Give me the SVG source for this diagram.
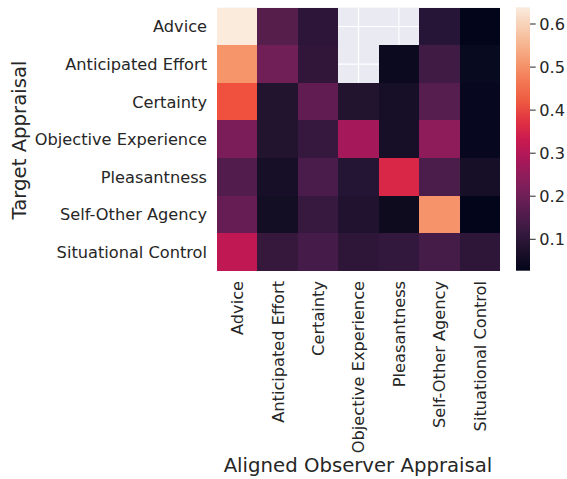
<svg xmlns="http://www.w3.org/2000/svg" width="567" height="479" viewBox="0 0 567 479">
<style>
text{font-family:"DejaVu Sans","Liberation Sans",sans-serif;fill:#262626}
.tk{font-size:16.2px}
.ax{font-size:19.7px}
.grid{stroke:#ffffff;stroke-width:1.2}
.cell{stroke:none}
.cbt{stroke:#262626;stroke-width:1}
</style>
<defs>
<linearGradient id="rocket" x1="0" y1="1" x2="0" y2="0">
<stop offset="0" stop-color="#03051A"/>
<stop offset="0.071" stop-color="#1B1029"/>
<stop offset="0.143" stop-color="#35193E"/>
<stop offset="0.214" stop-color="#521C4D"/>
<stop offset="0.286" stop-color="#701F57"/>
<stop offset="0.357" stop-color="#8E1D5B"/>
<stop offset="0.429" stop-color="#AD1759"/>
<stop offset="0.5" stop-color="#CB1B4F"/>
<stop offset="0.571" stop-color="#E13342"/>
<stop offset="0.643" stop-color="#EE5A41"/>
<stop offset="0.714" stop-color="#F37651"/>
<stop offset="0.786" stop-color="#F5966D"/>
<stop offset="0.857" stop-color="#F6B48F"/>
<stop offset="0.929" stop-color="#F8D0B5"/>
<stop offset="1" stop-color="#FAEBDD"/>
</linearGradient>
</defs>
<rect x="0" y="0" width="567" height="479" fill="#ffffff"/>
<g id="axes-background">
<rect x="217" y="7.7" width="283" height="263" fill="#EAEAF2"/>
<g class="grid">
<line x1="237.21" y1="7.7" x2="237.21" y2="270.7"/>
<line x1="277.64" y1="7.7" x2="277.64" y2="270.7"/>
<line x1="318.07" y1="7.7" x2="318.07" y2="270.7"/>
<line x1="358.5" y1="7.7" x2="358.5" y2="270.7"/>
<line x1="398.93" y1="7.7" x2="398.93" y2="270.7"/>
<line x1="439.36" y1="7.7" x2="439.36" y2="270.7"/>
<line x1="479.79" y1="7.7" x2="479.79" y2="270.7"/>
<line x1="217" y1="26.49" x2="500" y2="26.49"/>
<line x1="217" y1="64.06" x2="500" y2="64.06"/>
<line x1="217" y1="101.63" x2="500" y2="101.63"/>
<line x1="217" y1="139.2" x2="500" y2="139.2"/>
<line x1="217" y1="176.77" x2="500" y2="176.77"/>
<line x1="217" y1="214.34" x2="500" y2="214.34"/>
<line x1="217" y1="251.91" x2="500" y2="251.91"/>
</g>
</g>
<g id="heatmap-cells" shape-rendering="crispEdges">
<g id="row-advice">
<rect class="cell" x="217" y="7.7" width="40.6" height="37.8" fill="#FAEBDD"/>
<rect class="cell" x="257.43" y="7.7" width="40.6" height="37.8" fill="#551E4B"/>
<rect class="cell" x="297.86" y="7.7" width="40.43" height="37.8" fill="#2D1539"/>
<rect class="cell" x="419.14" y="7.7" width="40.6" height="37.8" fill="#261537"/>
<rect class="cell" x="459.57" y="7.7" width="40.43" height="37.8" fill="#03051A"/>
</g>
<g id="row-anticipated-effort">
<rect class="cell" x="217" y="45.27" width="40.6" height="37.8" fill="#F6956A"/>
<rect class="cell" x="257.43" y="45.27" width="40.6" height="37.8" fill="#701F57"/>
<rect class="cell" x="297.86" y="45.27" width="40.43" height="37.8" fill="#31163A"/>
<rect class="cell" x="378.71" y="45.27" width="40.6" height="37.8" fill="#0C0A1E"/>
<rect class="cell" x="419.14" y="45.27" width="40.6" height="37.8" fill="#401B44"/>
<rect class="cell" x="459.57" y="45.27" width="40.43" height="37.8" fill="#080A20"/>
</g>
<g id="row-certainty">
<rect class="cell" x="217" y="82.84" width="40.6" height="37.8" fill="#F0513F"/>
<rect class="cell" x="257.43" y="82.84" width="40.6" height="37.8" fill="#22132F"/>
<rect class="cell" x="297.86" y="82.84" width="40.6" height="37.8" fill="#611D52"/>
<rect class="cell" x="338.29" y="82.84" width="40.6" height="37.8" fill="#22132F"/>
<rect class="cell" x="378.71" y="82.84" width="40.6" height="37.8" fill="#160F27"/>
<rect class="cell" x="419.14" y="82.84" width="40.6" height="37.8" fill="#551E4E"/>
<rect class="cell" x="459.57" y="82.84" width="40.43" height="37.8" fill="#070820"/>
</g>
<g id="row-objective-experience">
<rect class="cell" x="217" y="120.41" width="40.6" height="37.8" fill="#7A1D58"/>
<rect class="cell" x="257.43" y="120.41" width="40.6" height="37.8" fill="#22132F"/>
<rect class="cell" x="297.86" y="120.41" width="40.6" height="37.8" fill="#36183E"/>
<rect class="cell" x="338.29" y="120.41" width="40.6" height="37.8" fill="#A5195B"/>
<rect class="cell" x="378.71" y="120.41" width="40.6" height="37.8" fill="#160F27"/>
<rect class="cell" x="419.14" y="120.41" width="40.6" height="37.8" fill="#8E1B5A"/>
<rect class="cell" x="459.57" y="120.41" width="40.43" height="37.8" fill="#070820"/>
</g>
<g id="row-pleasantness">
<rect class="cell" x="217" y="157.98" width="40.6" height="37.8" fill="#521C4C"/>
<rect class="cell" x="257.43" y="157.98" width="40.6" height="37.8" fill="#170F27"/>
<rect class="cell" x="297.86" y="157.98" width="40.6" height="37.8" fill="#4A1C4B"/>
<rect class="cell" x="338.29" y="157.98" width="40.6" height="37.8" fill="#251534"/>
<rect class="cell" x="378.71" y="157.98" width="40.6" height="37.8" fill="#D92847"/>
<rect class="cell" x="419.14" y="157.98" width="40.6" height="37.8" fill="#4A1D4A"/>
<rect class="cell" x="459.57" y="157.98" width="40.43" height="37.8" fill="#170F27"/>
</g>
<g id="row-self-other-agency">
<rect class="cell" x="217" y="195.55" width="40.6" height="37.8" fill="#651D53"/>
<rect class="cell" x="257.43" y="195.55" width="40.6" height="37.8" fill="#140E24"/>
<rect class="cell" x="297.86" y="195.55" width="40.6" height="37.8" fill="#37183E"/>
<rect class="cell" x="338.29" y="195.55" width="40.6" height="37.8" fill="#211330"/>
<rect class="cell" x="378.71" y="195.55" width="40.6" height="37.8" fill="#0F0B1F"/>
<rect class="cell" x="419.14" y="195.55" width="40.6" height="37.8" fill="#F6936A"/>
<rect class="cell" x="459.57" y="195.55" width="40.43" height="37.8" fill="#03051A"/>
</g>
<g id="row-situational-control">
<rect class="cell" x="217" y="233.12" width="40.6" height="37.58" fill="#BF1853"/>
<rect class="cell" x="257.43" y="233.12" width="40.6" height="37.58" fill="#37183D"/>
<rect class="cell" x="297.86" y="233.12" width="40.6" height="37.58" fill="#451B49"/>
<rect class="cell" x="338.29" y="233.12" width="40.6" height="37.58" fill="#2E1639"/>
<rect class="cell" x="378.71" y="233.12" width="40.6" height="37.58" fill="#33183D"/>
<rect class="cell" x="419.14" y="233.12" width="40.6" height="37.58" fill="#441C47"/>
<rect class="cell" x="459.57" y="233.12" width="40.43" height="37.58" fill="#2E1639"/>
</g>
</g>
<g id="y-tick-labels" class="tk" text-anchor="end">
<text x="207" y="32.4">Advice</text>
<text x="207" y="70">Anticipated Effort</text>
<text x="207" y="107.5">Certainty</text>
<text x="207" y="145.1">Objective Experience</text>
<text x="207" y="182.7">Pleasantness</text>
<text x="207" y="220.2">Self-Other Agency</text>
<text x="207" y="257.8">Situational Control</text>
</g>
<g id="x-tick-labels" class="tk" text-anchor="end">
<text transform="translate(243.1,281) rotate(-90)">Advice</text>
<text transform="translate(283.5,281) rotate(-90)">Anticipated Effort</text>
<text transform="translate(324,281) rotate(-90)">Certainty</text>
<text transform="translate(364.4,281) rotate(-90)">Objective Experience</text>
<text transform="translate(404.8,281) rotate(-90)">Pleasantness</text>
<text transform="translate(445.3,281) rotate(-90)">Self-Other Agency</text>
<text transform="translate(485.7,281) rotate(-90)">Situational Control</text>
</g>
<g id="axis-labels" class="ax" text-anchor="middle">
<text x="358" y="472">Aligned Observer Appraisal</text>
<text transform="translate(26,140) rotate(-90)">Target Appraisal</text>
</g>
<g id="colorbar">
<rect x="516" y="7.3" width="14" height="263.4" fill="url(#rocket)"/>
<g class="cbt">
<line x1="530" y1="24" x2="535.7" y2="24"/>
<line x1="530" y1="67.1" x2="535.7" y2="67.1"/>
<line x1="530" y1="110.1" x2="535.7" y2="110.1"/>
<line x1="530" y1="153.2" x2="535.7" y2="153.2"/>
<line x1="530" y1="196.2" x2="535.7" y2="196.2"/>
<line x1="530" y1="239.3" x2="535.7" y2="239.3"/>
</g>
<g class="tk">
<text x="539.3" y="29.9">0.6</text>
<text x="539.3" y="73">0.5</text>
<text x="539.3" y="116">0.4</text>
<text x="539.3" y="159.1">0.3</text>
<text x="539.3" y="202.1">0.2</text>
<text x="539.3" y="245.2">0.1</text>
</g>
</g>
</svg>
